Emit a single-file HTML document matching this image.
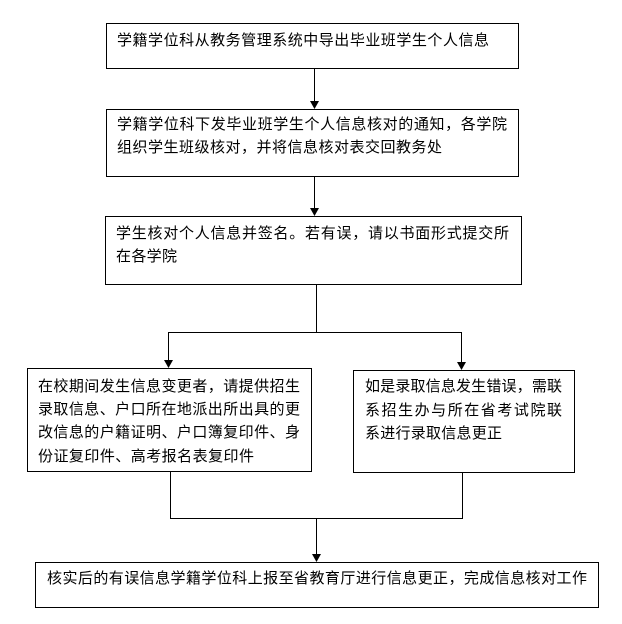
<!DOCTYPE html>
<html><head><meta charset="utf-8"><style>
html,body{margin:0;padding:0;background:#fff}
svg{display:block}
text{font-family:"Liberation Sans","Noto Sans CJK SC","WenQuanYi Zen Hei",sans-serif;font-size:15px;fill:#000}
</style></head><body>
<svg width="622" height="624" viewBox="0 0 622 624" xmlns="http://www.w3.org/2000/svg">
<g fill="none" stroke="#000" stroke-width="1">
<rect x="106.5" y="23.5" width="412" height="45"/>
<rect x="106.5" y="109.5" width="412" height="67"/>
<rect x="105.5" y="216.5" width="416" height="68"/>
<rect x="27.5" y="368.5" width="284" height="103"/>
<rect x="353.5" y="370.5" width="221" height="102"/>
<rect x="35.5" y="562.5" width="563" height="45"/>
<path d="M314.5 69V101M314.5 177V208M316.5 285V332.5M168.5 332.5H461.5M168.5 332V360M461.5 332V362M170.5 472V518.5M462.5 473V518.5M170 518.5H463M316.5 518V554"/>
</g>
<g fill="#000">
<path d="M310 101h9l-4.5 8z"/>
<path d="M310 208h9l-4.5 8z"/>
<path d="M164 360h9l-4.5 8z"/>
<path d="M457 362h9l-4.5 8z"/>
<path d="M312 554h9l-4.5 8z"/>
</g>
<text x="117" y="45" textLength="372">学籍学位科从教务管理系统中导出毕业班学生个人信息</text>
<text x="117" y="129" textLength="390">学籍学位科下发毕业班学生个人信息核对的通知，各学院</text>
<text x="117" y="152" textLength="325">组织学生班级核对，并将信息核对表交回教务处</text>
<text x="116" y="238" textLength="393">学生核对个人信息并签名。若有误，请以书面形式提交所</text>
<text x="116" y="261" textLength="61">在各学院</text>
<text x="38" y="391" textLength="262">在校期间发生信息变更者，请提供招生</text>
<text x="38" y="414" textLength="262">录取信息、户口所在地派出所出具的更</text>
<text x="38" y="437" textLength="262">改信息的户籍证明、户口簿复印件、身</text>
<text x="38" y="461" textLength="216">份证复印件、高考报名表复印件</text>
<text x="365" y="391" textLength="197">如是录取信息发生错误，需联</text>
<text x="365" y="415" textLength="197">系招生办与所在省考试院联</text>
<text x="365" y="438" textLength="137">系进行录取信息更正</text>
<text x="47" y="583" textLength="540">核实后的有误信息学籍学位科上报至省教育厅进行信息更正，完成信息核对工作</text>
</svg>
</body></html>
